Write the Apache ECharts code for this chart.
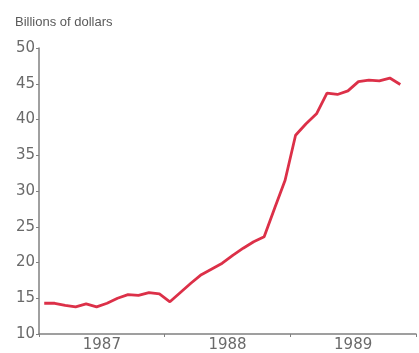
<!DOCTYPE html>
<html>
<head>
<meta charset="utf-8">
<script src="https://cdn.jsdelivr.net/npm/echarts@6/dist/echarts.min.js"></script>
<style>
  html, body { margin: 0; padding: 0; background: #fff; }
  #chart { width: 419px; height: 353px; }
</style>
</head>
<body>
<div id="chart"></div>
<script>
// 月度数据：1987年1月 至 1989年11月
var years = ['1987', '1988', '1989'];
var yTicks = [10, 15, 20, 25, 30, 35, 40, 45, 50];
var values = [
    14.3, 14.3, 14.0, 13.8, 14.2, 13.8, 14.3, 15.0, 15.5, 15.4, 15.8, 15.6,
    14.5, 15.8, 17.1, 18.3, 19.1, 19.9, 21.0, 22.0, 22.9, 23.6, 27.6, 31.5,
    37.8, 39.4, 40.8, 43.7, 43.5, 44.0, 45.3, 45.5, 45.4, 45.8, 44.9
];

var myChart = echarts.init(document.getElementById('chart'));

// 每个月取中点作为横坐标
var points = values.map(function (v, i) {
    return [i + 0.5, v];
});

var textColor = '#6a6a6a';
var axisColor = '#808080';

var option = {
    animation: false,
    title: {
        text: 'Billions of dollars',
        left: 10,
        top: 11,
        textStyle: {
            fontFamily: 'Liberation Sans',
            fontSize: 13,
            fontWeight: 'normal',
            color: '#5a5a5a'
        }
    },
    grid: {
        left: 39,
        right: -4,
        top: 48,
        bottom: 19
    },
    xAxis: [{
        type: 'value',
        min: 0,
        max: 36,
        interval: 12,
        axisLine: { show: true, lineStyle: { color: axisColor, width: 1.5 } },
        axisTick: { show: true, length: 3, lineStyle: { color: axisColor } },
        axisLabel: { show: false },
        splitLine: { show: false }
    }, {
        // 年份标签放在每年的中间
        type: 'value',
        position: 'bottom',
        min: 0,
        max: 36,
        interval: 6,
        axisLine: { show: false },
        axisTick: { show: false },
        splitLine: { show: false },
        axisLabel: {
            margin: 4,
            fontFamily: 'DejaVu Sans',
            fontSize: 15,
            color: textColor,
            formatter: function (v) {
                if (v % 12 === 6) {
                    return years[(v - 6) / 12];
                }
                return '';
            }
        }
    }],
    yAxis: {
        type: 'value',
        min: yTicks[0],
        max: yTicks[yTicks.length - 1],
        interval: 5,
        axisLine: { show: true, lineStyle: { color: axisColor, width: 1.5 } },
        axisTick: { show: true, length: 3, lineStyle: { color: axisColor } },
        axisLabel: {
            margin: 4,
            fontFamily: 'DejaVu Sans',
            fontSize: 15,
            color: textColor
        },
        splitLine: { show: false }
    },
    series: [{
        type: 'line',
        xAxisIndex: 0,
        data: points,
        symbol: 'none',
        lineStyle: {
            color: '#dc3048',
            width: 2.8
        }
    }]
};

myChart.setOption(option);
</script>
</body>
</html>
